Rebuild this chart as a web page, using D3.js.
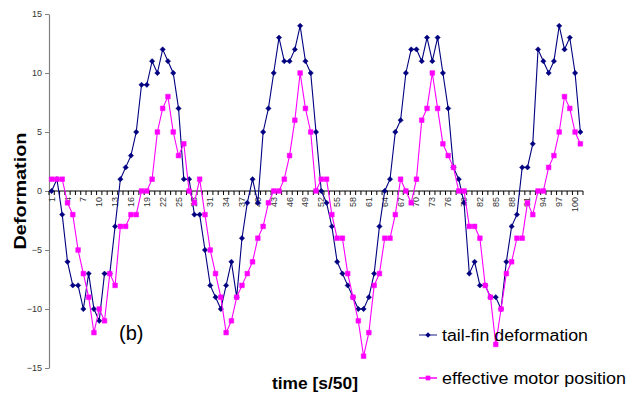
<!DOCTYPE html>
<html>
<head>
<meta charset="utf-8">
<script src="https://cdn.jsdelivr.net/npm/d3@7/dist/d3.min.js"></script>
<style>
  html, body { margin: 0; padding: 0; background: #fff; }
  svg { display: block; font-family: "Liberation Sans", Arial, sans-serif; }
</style>
</head>
<body>
<svg id="chart" width="640" height="396"></svg>
<script>
// Sample index (time in s/50)
const categories = d3.range(1, 102);
const xTickLabels = [1, 4, 7, 10, 13, 16, 19, 22, 25, 28, 31, 34, 37, 40, 43, 46, 49, 52, 55, 58, 61, 64, 67, 70, 73, 76, 79, 82, 85, 88, 91, 94, 97, 100];
const yTickLabels = [-15, -10, -5, 0, 5, 10, 15];

// Series values
const tailFin = [
  0, 1, -2, -6, -8, -8, -10, -7, -10, -11,
  -7, -7, -3, 1, 2, 3, 5, 9, 9, 11,
  10, 12, 11, 10, 7, 1, 1, -2, -2, -5,
  -8, -9, -10, -8, -6, -9, -4, -1, 1, -1,
  5, 7, 10, 13, 11, 11, 12, 14, 11, 10,
  5, 0, -1, -3, -6, -7, -8, -9, -10, -10,
  -9, -7, -3, 0, 1, 5, 6, 10, 12, 12,
  11, 13, 11, 13, 10, 7, 2, 1, -1, -7,
  -6, -8, -8, -9, -9, -10, -6, -3, -2, 2,
  2, 4, 12, 11, 10, 11, 14, 12, 13, 10,
  5
];
const motor = [
  1, 1, 1, -1, -2, -5, -7, -9, -12, -10,
  -11, -7, -8, -3, -3, -2, -2, 0, 0, 1,
  5, 7, 8, 5, 3, 4, 0, -1, 1, -2,
  -5, -7, -9, -12, -11, -9, -8, -7, -6, -4,
  -3, -1, 0, 0, 1, 3, 6, 10, 7, 5,
  0, 1, 1, -2, -4, -4, -7, -9, -11, -14,
  -12, -8, -7, -4, -4, -2, 1, 0, -1, 1,
  6, 7, 10, 7, 4, 3, 2, 0, 0, -3,
  -3, -4, -8, -9, -13, -10, -7, -6, -4, -4,
  -1, -2, 0, 0, 2, 3, 5, 8, 7, 5,
  4
];
const seriesNames = ["tail-fin deformation", "effective motor position"];
const seriesColors = ["#000080", "#FF00FF"];

const svg = d3.select("#chart");

const x = d3.scaleBand().domain(categories).range([49, 583]).paddingInner(0).paddingOuter(0);
const y = d3.scaleLinear().domain([-15, 15]).range([368, 14]);
const cx = c => x(c) + x.bandwidth() / 2;

// Y axis
const yAxis = svg.append("g")
  .attr("transform", "translate(49,0)")
  .call(d3.axisLeft(y).tickValues(yTickLabels).tickSize(4).tickSizeOuter(0).tickFormat(d3.format("d")));
yAxis.select(".domain").attr("stroke", "#808080").attr("stroke-width", 1.2);
yAxis.selectAll(".tick line").attr("stroke", "#808080");
yAxis.selectAll(".tick text")
  .attr("fill", "#333")
  .attr("font-size", 9)
  .attr("font-family", "Liberation Sans, Arial, sans-serif")
  .attr("x", -7);

// X axis along zero
const y0 = y(0);
const xAxis = svg.append("g").attr("transform", `translate(0,${y0})`);
xAxis.append("line")
  .attr("x1", 49).attr("x2", 583)
  .attr("y1", 0).attr("y2", 0)
  .attr("stroke", "#000").attr("stroke-width", 1);
// tick marks on category boundaries
const boundaries = categories.map(c => x(c)).concat([x.range()[1]]);
xAxis.selectAll("line.btick")
  .data(boundaries)
  .join("line")
  .attr("class", "btick")
  .attr("x1", d => d).attr("x2", d => d)
  .attr("y1", 0).attr("y2", 4)
  .attr("stroke", "#000").attr("stroke-width", 1);
xAxis.selectAll("text.xl")
  .data(xTickLabels)
  .join("text")
  .attr("class", "xl")
  .attr("transform", d => `translate(${cx(d) + 3},6) rotate(-90)`)
  .attr("text-anchor", "end")
  .attr("font-size", 9)
  .attr("fill", "#333")
  .text(d => d);

// Series
const line = d3.line().x((d, i) => cx(categories[i])).y(d => y(d));

function drawSeries(values, color, shape, size) {
  const g = svg.append("g");
  g.append("path")
    .datum(values)
    .attr("d", line)
    .attr("fill", "none")
    .attr("stroke", color)
    .attr("stroke-width", 1.1);
  g.selectAll("path.m")
    .data(values)
    .join("path")
    .attr("class", "m")
    .attr("transform", (d, i) => `translate(${cx(categories[i])},${y(d)})`)
    .attr("d", d3.symbol().type(shape).size(size))
    .attr("fill", color)
    .attr("stroke", color)
    .attr("stroke-width", 0.5);
}
drawSeries(tailFin, seriesColors[0], d3.symbolDiamond2, 18);
drawSeries(motor, seriesColors[1], d3.symbolSquare, 22);

// Axis titles
svg.append("text")
  .attr("transform", `translate(26,191) rotate(-90)`)
  .attr("text-anchor", "middle")
  .attr("font-weight", "bold")
  .attr("font-size", 17)
  .attr("textLength", 117)
  .attr("lengthAdjust", "spacingAndGlyphs")
  .text("Deformation");

svg.append("text")
  .attr("x", 272).attr("y", 389)
  .attr("font-weight", "bold")
  .attr("font-size", 17)
  .attr("textLength", 86)
  .attr("lengthAdjust", "spacingAndGlyphs")
  .text("time [s/50]");

svg.append("text")
  .attr("x", 119).attr("y", 340)
  .attr("font-size", 20)
  .text("(b)");

// Legend
const legendRows = [
  { name: seriesNames[0], color: seriesColors[0], shape: d3.symbolDiamond2, size: 18, y: 335, width: 146 },
  { name: seriesNames[1], color: seriesColors[1], shape: d3.symbolSquare, size: 22, y: 378, width: 184 }
];
const lg = svg.append("g");
legendRows.forEach(r => {
  lg.append("line")
    .attr("x1", 419).attr("x2", 437)
    .attr("y1", r.y).attr("y2", r.y)
    .attr("stroke", r.color).attr("stroke-width", 1.5)
    .attr("stroke-opacity", r.color === "#000080" ? 0.6 : 1);
  lg.append("path")
    .attr("transform", `translate(428,${r.y})`)
    .attr("d", d3.symbol().type(r.shape).size(r.size))
    .attr("fill", r.color);
  lg.append("text")
    .attr("x", 442).attr("y", r.y + 6)
    .attr("font-size", 16)
    .attr("fill", "#000")
    .attr("textLength", r.width)
    .attr("lengthAdjust", "spacingAndGlyphs")
    .text(r.name);
});
</script>
</body>
</html>
